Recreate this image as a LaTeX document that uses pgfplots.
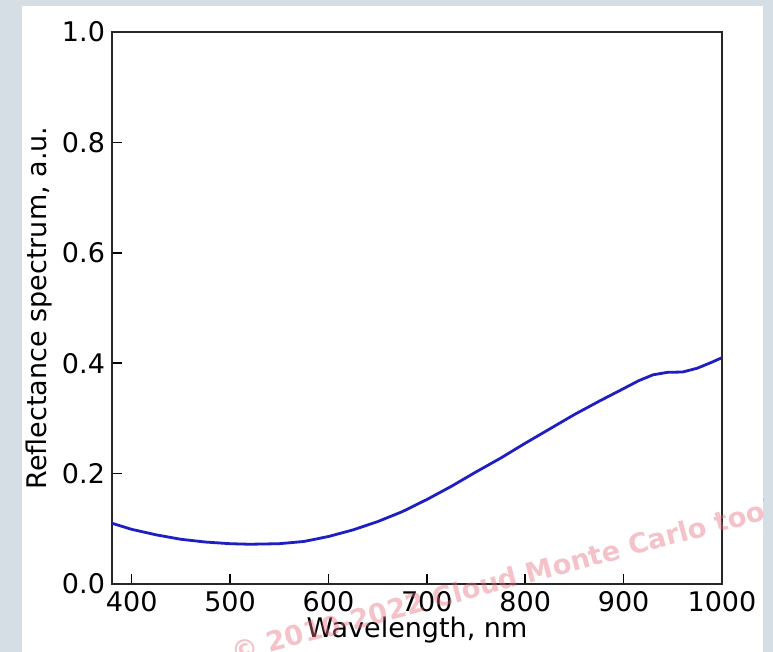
\documentclass[border=0pt]{standalone}
\usepackage{pgfplots}
\pgfplotsset{compat=1.18}
\usepackage{fontspec}
\setmainfont{DejaVu Sans}
\definecolor{pagebg}{RGB}{213,221,229}
\definecolor{curve}{RGB}{30,30,195}
\definecolor{wm}{RGB}{232,110,128}
\begin{document}
\begin{tikzpicture}
\useasboundingbox (-56pt,-34pt) rectangle (330.5pt,292pt);
\fill[pagebg] (-56pt,-34pt) rectangle (330.5pt,292pt);
\fill[white] (-45pt,-34pt) rectangle (325.5pt,289pt);
\begin{axis}[
  at={(0,0)}, anchor=south west,
  scale only axis, width=305pt, height=276pt,
  xmin=380, xmax=1000, ymin=0, ymax=1,
  xtick={400,500,...,1000},
  ytick={0,0.2,...,1.0},
  tick pos=left, tick align=inside,
  major tick length=5pt,
  every tick/.style={black, line width=0.8pt},
  axis line style={black!85, line width=0.7pt},
  /pgf/number format/assume math mode=true,
  yticklabel style={/pgf/number format/fixed, /pgf/number format/fixed zerofill, /pgf/number format/precision=1},
  xticklabel style={/pgf/number format/1000 sep={}},
  tick label style={font=\fontsize{13.5}{15}\selectfont},
  label style={font=\fontsize{13.5}{15}\selectfont},
  xlabel={Wavelength, nm},
  ylabel={Reflectance spectrum, a.u.},
  xlabel style={yshift=4pt},
  ylabel style={yshift=-2pt},
]
\addplot[curve, line width=1.4pt] table {
380 0.110
400 0.099
425 0.089
450 0.081
475 0.076
500 0.073
520 0.072
550 0.073
575 0.077
600 0.086
625 0.098
650 0.113
675 0.131
700 0.153
725 0.177
750 0.203
775 0.228
800 0.255
825 0.281
850 0.307
875 0.331
900 0.354
915 0.368
930 0.379
945 0.3835
960 0.384
975 0.391
990 0.402
1000 0.410
};
\end{axis}
\begin{scope}
\clip (-45pt,-34pt) rectangle (325.5pt,289pt);
\node[rotate=15, text=wm, opacity=0.42, font=\bfseries\fontsize{13.6}{15}\selectfont] at (195pt,2pt) {© 2010-2022 Cloud Monte Carlo tool};
\end{scope}
\end{tikzpicture}
\end{document}
